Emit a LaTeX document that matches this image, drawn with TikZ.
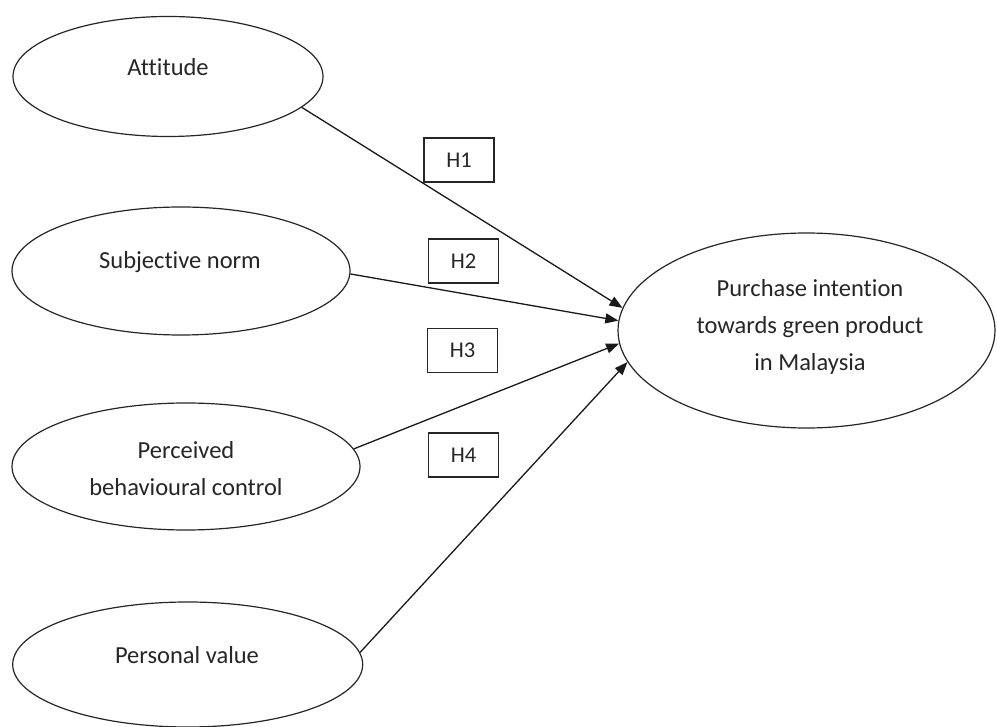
\documentclass[tikz,border=0pt]{standalone}
\usepackage{fontspec}
\setmainfont{Carlito}[Ligatures=NoCommon]
\usetikzlibrary{shapes.geometric,arrows.meta}
\begin{document}
\begin{tikzpicture}[x=1pt,y=-1pt,
  oval/.style={draw=black!85,line width=1.2pt,ellipse,inner sep=0pt,fill=white},
  ovaltext/.style={font=\fontsize{24.5}{37}\selectfont,align=center,text=black!85},
  hbox/.style={draw=black!85,line width=1.2pt,inner sep=0pt,minimum width=70pt,minimum height=44pt,font=\fontsize{22.5}{27}\selectfont,text=black!85},
  link/.style={line width=1.3pt,draw=black!90,-{Triangle[length=13pt,width=10pt]}}]
\useasboundingbox (0,0) rectangle (997,727);
\node[oval,minimum width=310pt,minimum height=120pt] (att) at (168,76.5) {};
\node[ovaltext] (attt) at (168,67) {Attitude};
\node[oval,minimum width=338pt,minimum height=128pt] (sub) at (181,271) {};
\node[ovaltext] (subt) at (180,262) {Subjective norm};
\node[oval,minimum width=348pt,minimum height=127pt] (per) at (186,466.5) {};
\node[ovaltext] (pert) at (186,468.5) {Perceived\\behavioural control};
\node[oval,minimum width=350pt,minimum height=125pt] (pv) at (187.7,664.5) {};
\node[ovaltext] (pvt) at (187,655) {Personal value};
\node[oval,minimum width=377pt,minimum height=195pt] (pi) at (806.5,330.5) {};
\node[ovaltext] (pit) at (810,326.5) {Purchase intention\\towards green product\\in Malaysia};
\node[hbox] (h1) at (459,160) {H1};
\node[hbox] (h2) at (463.5,261) {H2};
\node[hbox] (h3) at (462.5,350.5) {H3};
\node[hbox] (h4) at (463.5,455) {H4};
\draw[link] (att.-13) -- (pi.173.7);
\draw[link] (sub.-1) -- (pi.177.7);
\draw[link] (per.6) -- (pi.-176.8);
\draw[link] (pv.4) -- (pi.190.2);
\end{tikzpicture}
\end{document}
